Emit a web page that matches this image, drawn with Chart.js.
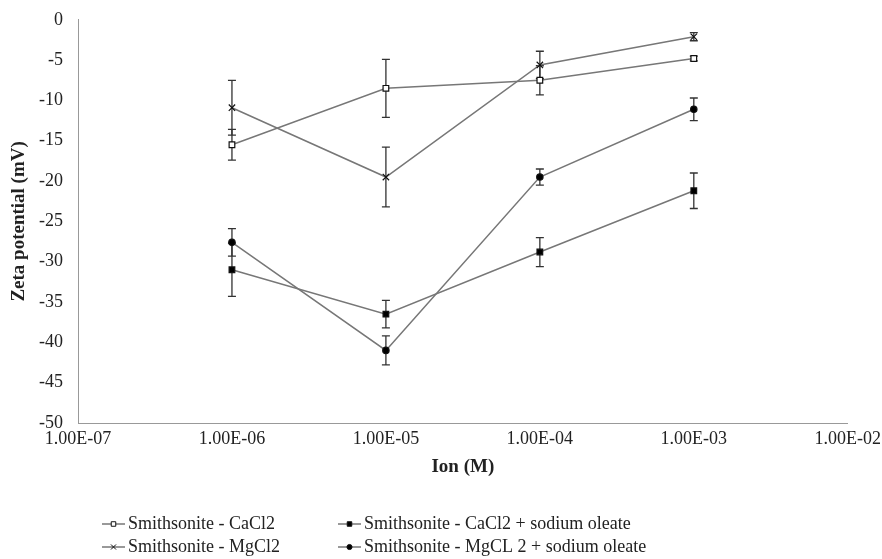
<!DOCTYPE html>
<html>
<head>
<meta charset="utf-8">
<script src="https://cdn.jsdelivr.net/npm/chart.js@4"></script>
<style>
  html, body { margin: 0; padding: 0; background: #fff; }
  #wrap { width: 882px; height: 559px; }
</style>
</head>
<body>
<div id="wrap"><canvas id="graficoZeta" width="882" height="559"></canvas></div>
<script>
// Concentrações (M) e ticks do eixo x
const concentracoes = [1e-6, 1e-5, 1e-4, 1e-3];
const ticksX = [1e-7, 1e-6, 1e-5, 1e-4, 1e-3, 1e-2];

// Séries (mV) e barras de erro (±)
const labelsSeries = [
  'Smithsonite - CaCl2',
  'Smithsonite - CaCl2 + sodium oleate',
  'Smithsonite - MgCl2',
  'Smithsonite - MgCL 2 + sodium oleate'
];
const caCl2 = [-15.5, -8.5, -7.5, -4.8];
const caCl2Erro = [1.9, 3.6, 1.8, 0.3];
const caCl2Oleato = [-31.0, -36.5, -28.8, -21.2];
const caCl2OleatoErro = [3.3, 1.7, 1.8, 2.2];
const mgCl2 = [-10.9, -19.5, -5.6, -2.1];
const mgCl2Erro = [3.4, 3.7, 1.7, 0.5];
const mgCl2Oleato = [-27.6, -41.0, -19.5, -11.1];
const mgCl2OleatoErro = [1.7, 1.8, 1.0, 1.4];

const FONTE = "'Liberation Serif', 'Times New Roman', serif";

function formatarExp(v) {
  const exp = Math.round(Math.log10(v));
  const sinal = exp < 0 ? '-' : '+';
  const abs = String(Math.abs(exp)).padStart(2, '0');
  return '1.00E' + sinal + abs;
}

function montarSerie(label, valores, erros, estilo) {
  return {
    label: label,
    data: concentracoes.map((x, i) => ({ x: x, y: valores[i] })),
    erros: erros,
    borderColor: '#777',
    borderWidth: 1.5,
    pointStyle: estilo.pointStyle,
    pointRadius: estilo.radius,
    pointBackgroundColor: estilo.fill,
    pointBorderColor: '#111',
    pointBorderWidth: 1.2,
    tension: 0
  };
}

const datasets = [
  montarSerie(labelsSeries[0], caCl2, caCl2Erro, { pointStyle: 'rect', radius: 4, fill: '#fff' }),
  montarSerie(labelsSeries[1], caCl2Oleato, caCl2OleatoErro, { pointStyle: 'rect', radius: 4, fill: '#000' }),
  montarSerie(labelsSeries[2], mgCl2, mgCl2Erro, { pointStyle: 'crossRot', radius: 4.5, fill: '#000' }),
  montarSerie(labelsSeries[3], mgCl2Oleato, mgCl2OleatoErro, { pointStyle: 'circle', radius: 3.2, fill: '#000' })
];

// Plugin para as barras de erro
const barrasErro = {
  id: 'barrasErro',
  beforeDatasetsDraw(chart) {
    const ctx = chart.ctx;
    const sx = chart.scales.x;
    const sy = chart.scales.y;
    ctx.save();
    ctx.strokeStyle = '#333';
    ctx.lineWidth = 1.3;
    chart.data.datasets.forEach(ds => {
      ds.data.forEach((p, i) => {
        const e = ds.erros[i];
        const px = sx.getPixelForValue(p.x);
        const yTopo = sy.getPixelForValue(p.y + e);
        const yBase = sy.getPixelForValue(p.y - e);
        ctx.beginPath();
        ctx.moveTo(px, yTopo);
        ctx.lineTo(px, yBase);
        ctx.moveTo(px - 4, yTopo);
        ctx.lineTo(px + 4, yTopo);
        ctx.moveTo(px - 4, yBase);
        ctx.lineTo(px + 4, yBase);
        ctx.stroke();
      });
    });
    ctx.restore();
  }
};

// Legenda em duas colunas, desenhada à mão
const legendaColunas = {
  id: 'legendaColunas',
  afterDraw(chart) {
    const ctx = chart.ctx;
    const colunas = [102, 338];
    const linhas = [524, 547];
    ctx.save();
    ctx.textBaseline = 'middle';
    chart.data.datasets.forEach((ds, i) => {
      const x0 = colunas[i % 2];
      const y0 = linhas[Math.floor(i / 2)];
      ctx.strokeStyle = '#777';
      ctx.lineWidth = 1.5;
      ctx.beginPath();
      ctx.moveTo(x0, y0);
      ctx.lineTo(x0 + 23, y0);
      ctx.stroke();
      // marcador com as mesmas cores da série
      ctx.fillStyle = ds.pointBackgroundColor;
      ctx.strokeStyle = '#111';
      ctx.lineWidth = 1;
      Chart.helpers.drawPoint(ctx, {
        pointStyle: ds.pointStyle,
        radius: ds.pointRadius * 0.8,
        borderWidth: 1
      }, x0 + 11.5, y0);
      ctx.fillStyle = '#222';
      ctx.font = '18px ' + FONTE;
      ctx.fillText(ds.label, x0 + 26, y0);
    });
    ctx.restore();
  }
};

const chart = new Chart(document.getElementById('graficoZeta').getContext('2d'), {
  type: 'line',
  data: { datasets: datasets },
  options: {
    responsive: false,
    animation: false,
    layout: { padding: { top: 19, right: 34, bottom: 76, left: 0 } },
    plugins: {
      legend: { display: false },
      tooltip: { enabled: false }
    },
    scales: {
      x: {
        type: 'logarithmic',
        min: 1e-7,
        max: 1e-2,
        afterBuildTicks: (s) => { s.ticks = ticksX.map(v => ({ value: v })); },
        afterFit: (s) => { s.height = 60; },
        grid: { display: false, drawTicks: true, tickLength: 4, tickColor: '#888' },
        border: { display: true, color: '#999', width: 1 },
        ticks: {
          callback: (v) => formatarExp(v),
          color: '#222',
          font: { family: FONTE, size: 18 },
          padding: 1,
          maxRotation: 0,
          autoSkip: false
        },
        title: {
          display: true,
          text: 'Ion (M)',
          color: '#222',
          font: { family: FONTE, size: 19, weight: 'bold' },
          padding: { top: 0, bottom: 5 }
        }
      },
      y: {
        min: -50,
        max: 0,
        afterFit: (s) => { s.width = 78; },
        grid: { display: false, drawTicks: true, tickLength: 6, tickColor: '#888' },
        border: { display: true, color: '#999', width: 1 },
        ticks: {
          stepSize: 5,
          color: '#222',
          font: { family: FONTE, size: 18 },
          padding: 9
        },
        title: {
          display: true,
          text: 'Zeta potential (mV)',
          color: '#222',
          font: { family: FONTE, size: 19, weight: 'bold' },
          padding: { top: 8, bottom: 0 }
        }
      }
    }
  },
  plugins: [barrasErro, legendaColunas]
});
</script>
</body>
</html>
